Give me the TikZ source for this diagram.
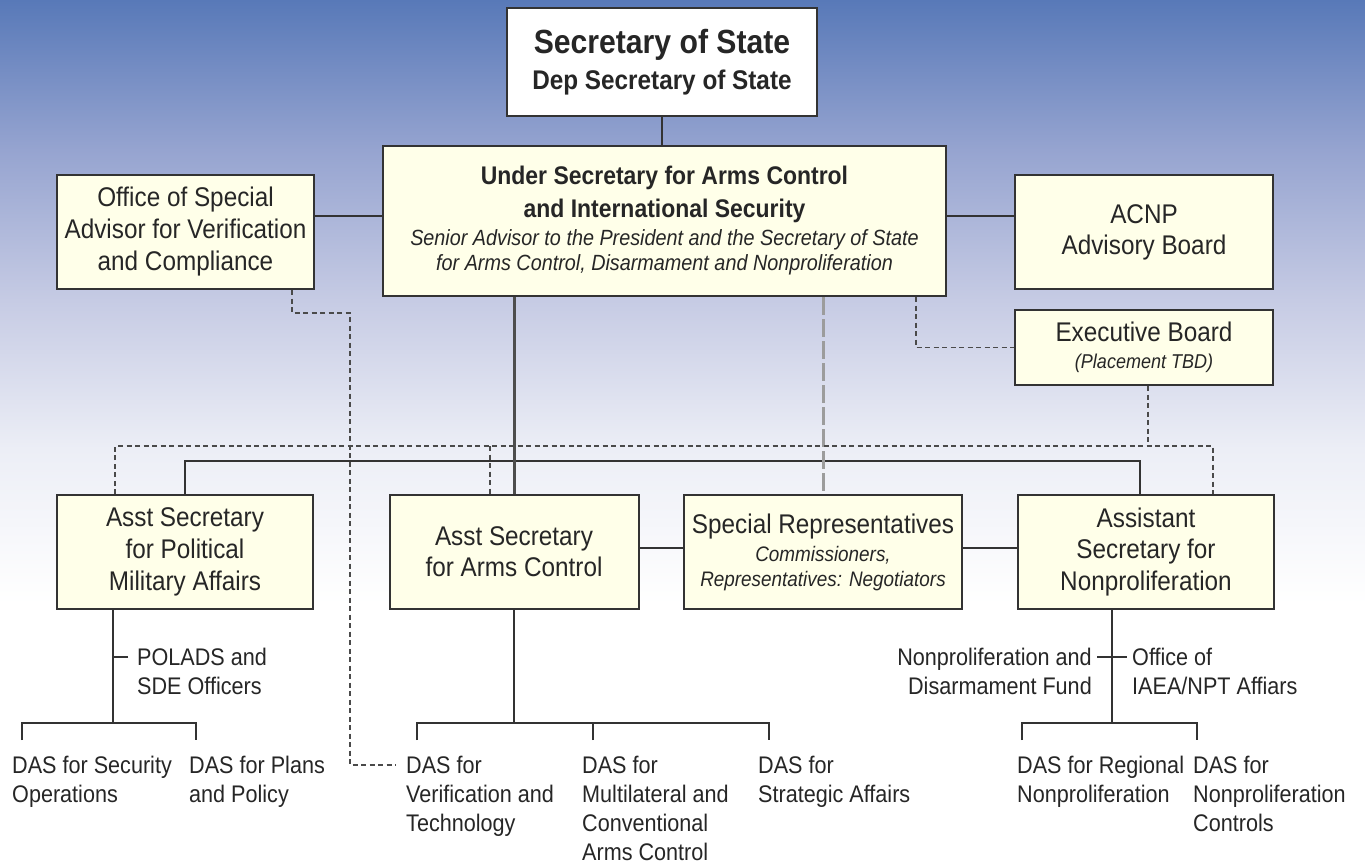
\documentclass[tikz,border=0pt]{standalone}
\usepackage{fontspec}
\setmainfont[FakeStretch=0.9]{Liberation Sans}
\usepackage{xcolor}
\definecolor{orgInk}{HTML}{262626}
\definecolor{orgLine}{HTML}{333333}
\definecolor{orgMid}{HTML}{4D4D4D}
\definecolor{orgDash}{HTML}{4A4A4A}
\definecolor{orgGrey}{HTML}{9C9C9C}
\definecolor{orgFill}{HTML}{FFFFE9}
\definecolor{skyA}{RGB}{88,121,184}
\definecolor{skyB}{RGB}{150,164,208}
\definecolor{skyC}{RGB}{198,203,228}
\definecolor{skyD}{RGB}{236,238,246}
\usepackage{tikz}
\usetikzlibrary{calc}
\pgfdeclareverticalshading{skyfade}{100bp}{color(0bp)=(white); color(40bp)=(white); color(49bp)=(skyD); color(57.6bp)=(skyC); color(66.3bp)=(skyB); color(75bp)=(skyA); color(100bp)=(skyA)}

\begin{document}
\begin{tikzpicture}[x=1pt, y=-1pt,
    box/.style={draw=orgLine, line width=2pt, fill=orgFill, text=orgInk, align=center,
      inner sep=0pt, font=\fontsize{27}{32}\selectfont},
    topbox/.style={box, fill=white},
    lbl/.style={text=orgInk, align=left, inner sep=0pt, anchor=north west,
      font=\fontsize{24}{29}\selectfont},
    link/.style={draw=orgLine, line width=2pt},
    dashlink/.style={draw=orgDash, line width=1.5pt, dash pattern=on 5pt off 3.5pt},
    greylink/.style={draw=orgGrey, line width=3pt, dash pattern=on 18pt off 4pt}]

  % ---- background ----
  \shade[shading=skyfade] (0,0) rectangle (1365,863);
  \useasboundingbox (0,0) rectangle (1365,863);

  % ---- top offices ----
  \node[topbox, minimum width=310pt, minimum height=108pt, font=\bfseries\fontsize{27}{36}\selectfont] (sec) at (662,62)
    {\fontsize{33.5}{36}\selectfont Secretary of State\\ Dep Secretary of State};
  \node[box, minimum width=563pt, minimum height=150pt, font=\fontsize{22}{25}\selectfont] (usec) at (664.5,221)
    {\bfseries\fontsize{25.5}{25}\selectfont Under Secretary for Arms Control\\[8pt]
     \bfseries\fontsize{25.5}{25}\selectfont and International Security\\[3pt]
     \itshape Senior Advisor to the President and the Secretary of State\\
     \itshape for Arms Control, Disarmament and Nonproliferation};
  \node[box, minimum width=257pt, minimum height=114pt] (osa) at (185.5,232)
    {Office of Special\\ Advisor for Verification\\ and Compliance};
  \node[box, minimum width=258pt, minimum height=114pt, font=\fontsize{27}{31}\selectfont] (acnp) at (1144,232)
    {ACNP\\ Advisory Board};
  \node[box, minimum width=258pt, minimum height=75pt, font=\fontsize{27}{27}\selectfont] (exb) at (1144,347.5)
    {Executive Board\\ \itshape\fontsize{20}{27}\selectfont (Placement TBD)};

  % ---- bureaus ----
  \node[box, minimum width=256pt, minimum height=114pt] (ps) at (185,552)
    {Asst Secretary\\ for Political\\ Military Affairs};
  \node[box, minimum width=249pt, minimum height=114pt, font=\fontsize{27}{31}\selectfont] (ac) at (514,552)
    {Asst Secretary\\ for Arms Control};
  \node[box, minimum width=278pt, minimum height=114pt, font=\fontsize{21}{25}\selectfont] (sr) at (823,552)
    {\fontsize{27}{25}\selectfont Special Representatives\\[3pt]
     \itshape Commissioners,\\ \itshape Representatives: Negotiators};
  \node[box, minimum width=256pt, minimum height=114pt, font=\fontsize{27}{31.5}\selectfont] (np) at (1146,552)
    {Assistant\\ Secretary for\\ Nonproliferation};

  % ---- offices under the bureaus ----
  \node[lbl] (polads) at (137,648) {POLADS and\\ SDE Officers};
  \node[lbl] (dasSec) at (12,756) {DAS for Security\\ Operations};
  \node[lbl] (dasPlan) at (189,756) {DAS for Plans\\ and Policy};
  \node[lbl] (dasVer) at (406,756) {DAS for\\ Verification and\\ Technology};
  \node[lbl] (dasMul) at (582,756) {DAS for\\ Multilateral and\\ Conventional\\ Arms Control};
  \node[lbl] (dasStr) at (758,756) {DAS for\\ Strategic Affairs};
  \node[lbl, anchor=north east, align=right] (ndFund) at (1092,648) {Nonproliferation and\\ Disarmament Fund};
  \node[lbl] (iaea) at (1132,648) {Office of\\ IAEA/NPT Affiars};
  \node[lbl] (dasReg) at (1017,756) {DAS for Regional\\ Nonproliferation};
  \node[lbl] (dasCtl) at (1193,756) {DAS for\\ Nonproliferation\\ Controls};

  % ---- solid lines ----
  \draw[link] (sec.south) -- (sec.south |- usec.north);
  \draw[link] ([yshift=16pt]osa.east) -- ([yshift=16pt]osa.east -| usec.west);
  \draw[link] ([yshift=16pt]acnp.west) -- ([yshift=16pt]acnp.west -| usec.east);
  \coordinate (busR) at (1140,461);
  \draw[link] (ps.north) -- (ps.north |- busR) -- (busR) -- (busR |- np.north);
  \draw[link, line width=3pt, draw=orgMid] (ac.north |- usec.south) -- (ac.north);
  \draw[greylink] (sr.north |- usec.south) -- (sr.north);
  \draw[link] ([yshift=4pt]ac.east) -- ([yshift=4pt]sr.west);
  \draw[link] ([yshift=4pt]sr.east) -- ([yshift=4pt]np.west);

  % ---- dashed lines ----
  \coordinate (exbTap) at (916,346);
  \draw[dashlink] (usec.south -| exbTap) |- (exb.west);
  \coordinate (dashHub) at (1148,446);
  \coordinate (dashL) at (115,446);
  \coordinate (dashR) at (1213,446);
  \coordinate (acTap) at (490,446);
  \draw[dashlink] (exb.south -| dashHub) -- (dashHub);
  \draw[dashlink] (dashL |- ps.north) -- (dashL) -- (dashR) -- (dashR |- np.north);
  \draw[dashlink] (acTap) -- (acTap |- ac.north);
  \coordinate (osaTurn) at (292,313);
  \coordinate (osaLane) at (350,765);
  \draw[dashlink] (osa.south -| osaTurn) -- (osaTurn) -| (osaLane) -- ([xshift=-10pt]osaLane -| dasVer.west);

  % ---- lower branches ----
  \coordinate (pmBus) at (113,723);
  \draw[link] (ps.south -| pmBus) -- (pmBus);
  \draw[link] ([xshift=10pt,yshift=16pt]dasSec.north west) |- (pmBus) -| ([xshift=7pt,yshift=16pt]dasPlan.north west);
  \draw[link] ([xshift=-9pt,yshift=-9pt]polads.north west) -- ([yshift=-9pt]polads.north west -| pmBus);
  \coordinate (acBus) at (514,723);
  \draw[link] (ac.south) -- (acBus);
  \draw[link] ([xshift=11pt,yshift=16pt]dasVer.north west) |- (acBus) -| ([xshift=11pt,yshift=16pt]dasStr.north west);
  \draw[link] ([xshift=11pt,yshift=16pt]dasMul.north west) -- ([xshift=11pt]dasMul.north west |- acBus);
  \coordinate (npBus) at (1112,723);
  \draw[link] (np.south -| npBus) -- (npBus);
  \draw[link] ([xshift=5pt,yshift=16pt]dasReg.north west) |- (npBus) -| ([xshift=4pt,yshift=16pt]dasCtl.north west);
  \draw[link] ([xshift=5pt,yshift=-9pt]ndFund.north east) -- ([xshift=-5pt,yshift=-9pt]iaea.north west);
\end{tikzpicture}
\end{document}
